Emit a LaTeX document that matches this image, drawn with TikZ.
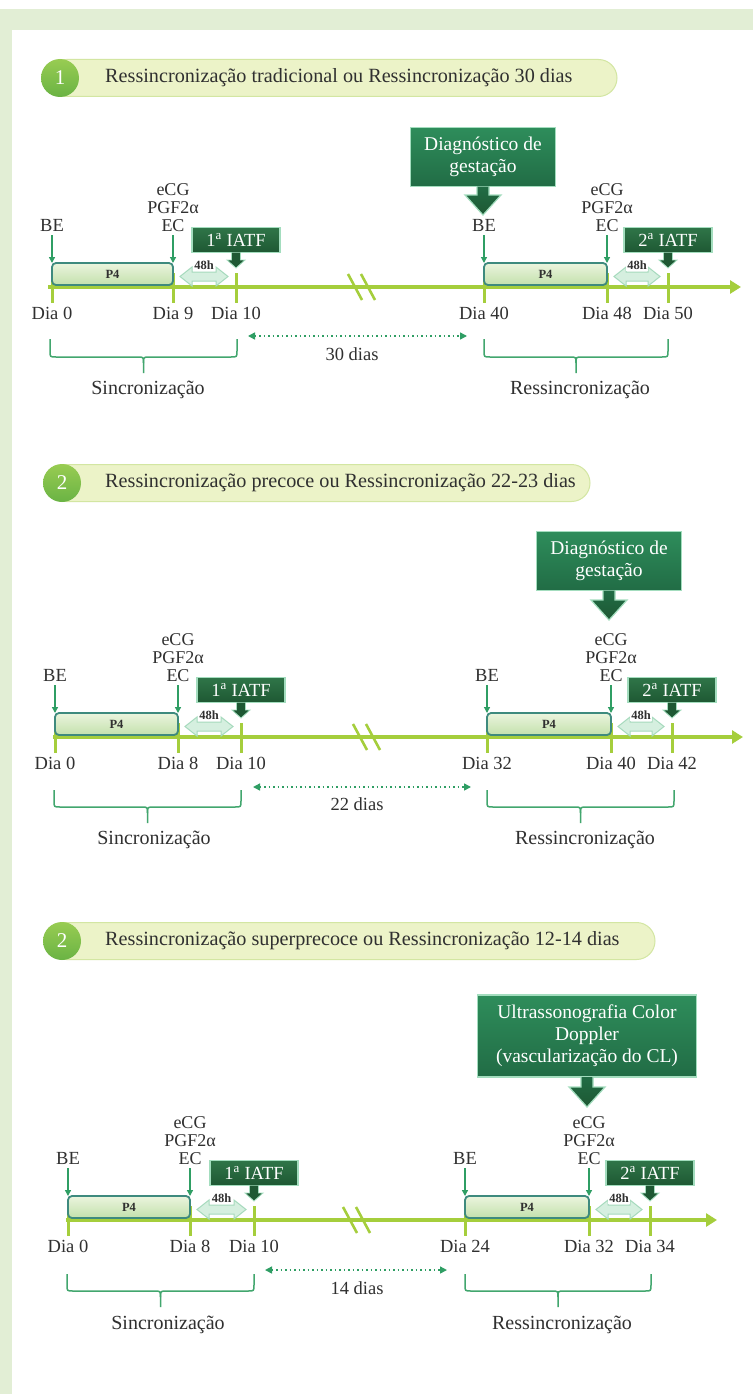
\documentclass[tikz,border=0pt]{standalone}
\usepackage{fontspec}
\setmainfont{Liberation Serif}
\usetikzlibrary{arrows.meta}
\definecolor{bandc}{HTML}{E2EED5}
\definecolor{pillf}{HTML}{ECF3C8}
\definecolor{pilld}{HTML}{D3E6A2}
\definecolor{circt}{HTML}{98CC52}
\definecolor{circb}{HTML}{6AB344}
\definecolor{axisc}{HTML}{A5CE3C}
\definecolor{garr}{HTML}{2F9E64}
\definecolor{p4t}{HTML}{EBF5DE}
\definecolor{p4b}{HTML}{C3E0AC}
\definecolor{p4d}{HTML}{3E8A7E}
\definecolor{mintf}{HTML}{D5EFDF}
\definecolor{mintd}{HTML}{A6DABD}
\definecolor{iatft}{HTML}{2F7548}
\definecolor{iatfb}{HTML}{1E5833}
\definecolor{diagt}{HTML}{2E8D5B}
\definecolor{diagb}{HTML}{216C45}
\definecolor{bord}{HTML}{A3DDBE}
\definecolor{txt}{HTML}{303030}
\definecolor{bracec}{HTML}{42A66E}

\newcommand\mkproto[9]{%
  \draw[tick] (#3,#2-14) -- (#3,#2+16);
  \draw[tick] (#4,#2-14) -- (#4,#2+16);
  \draw[tick] (#5,#2-14) -- (#5,#2+16);
  \node[p4box, minimum width={(#4-#3)*1pt}] (#1p) at ({(#3+#4)/2},#2-13) {P4};
  \node[lbl, anchor=south] (#1b) at (#3,#2-55) {BE};
  \draw[gar, shorten <=3pt] (#1b.south) -- (#1p.north west);
  \node[stack, anchor=south] (#1e) at (#4,#2-55) {eCG\\PGF2α\\EC};
  \draw[gar, shorten <=3pt] (#1e.south) -- (#1p.north east);
  \pgfmathsetmacro\hxa{#4+7}
  \pgfmathsetmacro\hxb{#5-8}
  \pgfmathsetmacro\hyc{#2-10.5}
  \draw[dbl] (\hxa,\hyc) -- (\hxa+12,\hyc-9.5) -- (\hxa+12,\hyc-4.5) -- (\hxb-12,\hyc-4.5)
     -- (\hxb-12,\hyc-9.5) -- (\hxb,\hyc) -- (\hxb-12,\hyc+9.5) -- (\hxb-12,\hyc+4.5)
     -- (\hxa+12,\hyc+4.5) -- (\hxa+12,\hyc+9.5) -- cycle;
  \node[h48] (#1h) at ({(\hxa+\hxb)/2},#2-21.5) {48h};
  \node[iatfbox] (#1i) at (#5,#2-47) {#9\textsuperscript{a} IATF};
  \draw[iatfarr] (#5-4.5,#2-34.5) -- (#5-4.5,#2-27) -- (#5-9,#2-27) -- (#5,#2-19)
     -- (#5+9,#2-27) -- (#5+4.5,#2-27) -- (#5+4.5,#2-34.5);
  \node[lbl] (#1d1) at (#3,#2+26) {Dia #6};
  \node[lbl] (#1d2) at (#4,#2+26) {Dia #7};
  \node[lbl] (#1d3) at (#5,#2+26) {Dia #8};
}
\newcommand\mkbrace[5]{%
  \pgfmathsetmacro\bmid{(#1+#2)/2}
  \draw[brc] (#1,#3) -- (#1,#4-6) .. controls (#1,#4) .. (#1+6,#4) -- (\bmid-6,#4)
     .. controls (\bmid,#4) .. (\bmid,#4+6) -- (\bmid,#5);
  \draw[brc] (\bmid,#4+6) .. controls (\bmid,#4) .. (\bmid+6,#4) -- (#2-6,#4)
     .. controls (#2,#4) .. (#2,#4-6) -- (#2,#3);
}
\newcommand\mkbig[3]{%
  \draw[bigarr] (#1-6,#2) -- (#1-6,#3-20) -- (#1-18,#3-20) -- (#1,#3) -- (#1+18,#3-20)
     -- (#1+6,#3-20) -- (#1+6,#2);
}
\newcommand\mkttl[6]{%
  \draw[pill] (48,#2-18.5) rectangle (#3,#2+18.5);
  \node[numc] (#1c) at (#6,#2) {#4};
  \node[ttltext, anchor=west] (#1t) at (105,#2) {#5};
}

\begin{document}
\begin{tikzpicture}[x=1pt,y=-1pt,
  every node/.style={text=txt},
  lbl/.style={font=\fontsize{18.5}{19}\selectfont, inner sep=0pt},
  phase/.style={font=\fontsize{20}{20}\selectfont, inner sep=0pt},
  stack/.style={lbl, align=center, font=\fontsize{18}{18}\selectfont},
  ttltext/.style={font=\fontsize{20.2}{21}\selectfont, inner sep=0pt},
  numc/.style={circle, minimum size=38pt, inner sep=0pt, top color=circt, bottom color=circb,
    text=white, font=\fontsize{21}{21}\selectfont},
  pill/.style={fill=pillf, draw=pilld, line width=1pt, rounded corners=18.5pt},
  p4box/.style={draw=p4d, line width=1.8pt, rounded corners=4pt, top color=p4t, bottom color=p4b,
    minimum height=22pt, inner sep=0pt, outer sep=0pt, font=\bfseries\fontsize{12.5}{13}\selectfont},
  iatfbox/.style={draw=bord, line width=1.2pt, top color=iatft, bottom color=iatfb,
    minimum width=88pt, minimum height=25pt, inner sep=0pt, text=white, font=\fontsize{18.5}{19}\selectfont},
  iatfarr/.style={fill=iatfb, draw=bord, line width=0.8pt},
  diagbox/.style={draw=bord, line width=1.5pt, top color=diagt, bottom color=diagb, text=white,
    align=center, font=\fontsize{19.5}{22}\selectfont, inner sep=0pt},
  bigarr/.style={top color=diagb, bottom color=iatfb, draw=bord, line width=1.2pt},
  gar/.style={draw=garr, line width=1.3pt, -{Triangle[length=6pt,width=6pt]}},
  tick/.style={draw=axisc, line width=3pt},
  axis/.style={draw=axisc, line width=4pt, -{Triangle[length=11pt,width=13pt]}},
  brk/.style={draw=axisc, line width=2.6pt},
  brc/.style={draw=bracec, line width=1.5pt},
  dbl/.style={fill=mintf, draw=mintd, line width=1pt},
  h48/.style={fill=white, inner sep=1pt, font=\bfseries\fontsize{12.5}{13}\selectfont},
  dots/.style={draw=garr, line width=1.5pt, dash pattern=on 1.5pt off 3pt,
    {Triangle[length=7pt,width=7pt]}-{Triangle[length=7pt,width=7pt]}}
]
\useasboundingbox (0,0) rectangle (753,1394);
\fill[white] (0,0) rectangle (753,1394);
\fill[bandc] (0,9) rectangle (753,30);
\fill[bandc] (0,9) rectangle (12,1394);

% ---------------- Section 1 ----------------
\mkttl{s1}{78}{617}{1}{Ressincronização tradicional ou Ressincronização 30 dias}{60}
\coordinate (x1s) at (48,287);
\coordinate (x1e) at (741,287);
\draw[axis] (x1s) -- (x1e);
\draw[brk] (348,274) -- (362,300);
\draw[brk] (361,274) -- (375,300);
\mkproto{a}{287}{52}{173}{236}{0}{9}{10}{1}
\mkproto{b}{287}{484}{607}{668}{40}{48}{50}{2}
\node[diagbox, minimum width=145pt, minimum height=59pt] (g1) at (483,157) {Diagnóstico de\\gestação};
\mkbig{483}{186.5}{215}
\coordinate (d1a) at (248,336);
\coordinate (d1b) at (467,336);
\draw[dots] (d1a) -- (d1b);
\node[lbl] (n1) at (352,354) {30 dias};
\mkbrace{50}{237}{339}{357}{373}
\mkbrace{484}{668}{339}{357}{373}
\node[phase] (sy1) at (148,390) {Sincronização};
\node[phase] (ry1) at (580,390) {Ressincronização};

% ---------------- Section 2 ----------------
\mkttl{s2}{483}{590}{2}{Ressincronização precoce ou Ressincronização 22-23 dias}{62}
\coordinate (x2s) at (53,737);
\coordinate (x2e) at (743,737);
\draw[axis] (x2s) -- (x2e);
\draw[brk] (353,724) -- (367,750);
\draw[brk] (366,724) -- (380,750);
\mkproto{c}{737}{55}{178}{241}{0}{8}{10}{1}
\mkproto{d}{737}{487}{611}{672}{32}{40}{42}{2}
\node[diagbox, minimum width=145pt, minimum height=59pt] (g2) at (609,561) {Diagnóstico de\\gestação};
\mkbig{609}{590.5}{620}
\coordinate (d2a) at (253,787);
\coordinate (d2b) at (471,787);
\draw[dots] (d2a) -- (d2b);
\node[lbl] (n2) at (357,804) {22 dias};
\mkbrace{54}{241}{790}{807}{823}
\mkbrace{487}{674}{790}{807}{823}
\node[phase] (sy2) at (154,840) {Sincronização};
\node[phase] (ry2) at (585,840) {Ressincronização};

% ---------------- Section 3 ----------------
\mkttl{s3}{941}{655}{2}{Ressincronização superprecoce ou Ressincronização 12-14 dias}{62}
\coordinate (x3s) at (66,1220);
\coordinate (x3e) at (717,1220);
\draw[axis] (x3s) -- (x3e);
\draw[brk] (343,1207) -- (357,1233);
\draw[brk] (356,1207) -- (370,1233);
\mkproto{e}{1220}{68}{190}{254}{0}{8}{10}{1}
\mkproto{f}{1220}{465}{589}{650}{24}{32}{34}{2}
\node[diagbox, minimum width=219pt, minimum height=82pt] (g3) at (587,1036) {Ultrassonografia Color\\Doppler\\(vascularização do CL)};
\mkbig{587}{1077}{1107}
\coordinate (d3a) at (265,1270);
\coordinate (d3b) at (447,1270);
\draw[dots] (d3a) -- (d3b);
\node[lbl] (n3) at (357,1288) {14 dias};
\mkbrace{67}{254}{1274}{1291}{1307}
\mkbrace{465}{651}{1274}{1291}{1307}
\node[phase] (sy3) at (168,1325) {Sincronização};
\node[phase] (ry3) at (562,1325) {Ressincronização};
\end{tikzpicture}
\end{document}
